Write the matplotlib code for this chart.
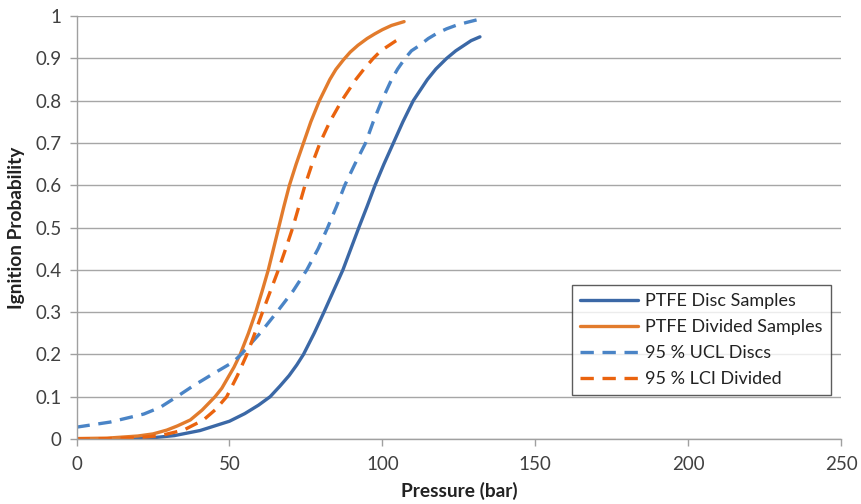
import matplotlib
matplotlib.use("Agg")
import matplotlib.pyplot as plt

plt.rcParams['font.family'] = ['Lato', 'DejaVu Sans']

# PTFE Disc Samples (solid blue)
disc_x = [0, 15, 25, 32, 40.4, 50, 55, 59.5, 63.3, 66.5, 69.5, 72, 74.2, 77.7, 80.9, 84, 87.1,
          89.7, 92.3, 95, 97.6, 100.5, 103.6, 106.7, 110.1, 114.7, 117.5, 121, 124, 126.5, 129, 131.9]
disc_y = [0, 0.001, 0.003, 0.008, 0.02, 0.042, 0.06, 0.08, 0.1, 0.125, 0.15, 0.175, 0.2, 0.25, 0.3,
          0.35, 0.4, 0.45, 0.5, 0.55, 0.6, 0.65, 0.7, 0.75, 0.8, 0.85, 0.875, 0.9, 0.918, 0.93,
          0.942, 0.951]

# PTFE Divided Samples (solid orange)
div_x = [0, 10, 20, 25, 29.5, 33, 37.2, 41, 45.3, 47.5, 49.5, 51.5, 53.5, 56.2, 58.6, 60.7,
         62.7, 64.4, 66.1, 67.8, 69.6, 71.8, 74.2, 76.6, 79.4, 82.8, 84.8, 87.3, 89.5, 92, 95,
         97.5, 100, 103, 107.1]
div_y = [0.001, 0.002, 0.007, 0.012, 0.021, 0.031, 0.045, 0.068, 0.1, 0.12, 0.145, 0.17, 0.2,
         0.25, 0.3, 0.35, 0.4, 0.45, 0.5, 0.55, 0.6, 0.65, 0.7, 0.75, 0.8, 0.85, 0.874, 0.897,
         0.915, 0.931, 0.947, 0.958, 0.968, 0.978, 0.987]

# 95 % UCL Discs (dashed blue)
ucl_x = [0, 11, 22, 27.4, 32.8, 38, 43.7, 51.2, 53.8, 60, 65.5, 70.8, 75.3, 79, 82.1, 85,
         87.7, 91, 94.5, 97, 99.8, 103, 105, 107.4, 109.5, 112, 115, 118, 121, 124, 127.5, 130.8]
ucl_y = [0.028, 0.04, 0.059, 0.075, 0.1, 0.125, 0.15, 0.182, 0.2, 0.25, 0.3, 0.35, 0.4, 0.45,
         0.5, 0.55, 0.6, 0.65, 0.7, 0.75, 0.8, 0.85, 0.875, 0.9, 0.918, 0.93, 0.947, 0.96,
         0.97, 0.978, 0.985, 0.991]

# 95 % LCI Divided (dashed orange)
lci_x = [0, 10, 20, 27.4, 35, 41.5, 45.5, 49.1, 52.6, 55.7, 58.3, 60.8, 63.4, 66, 68.4, 70.7,
         72.7, 74.7, 77, 79.6, 82.8, 86.7, 91.3, 94, 97, 99.5, 102, 104.5, 106.9]
lci_y = [0, 0.0008, 0.003, 0.008, 0.021, 0.045, 0.07, 0.1, 0.15, 0.2, 0.25, 0.3, 0.35, 0.4,
         0.45, 0.5, 0.55, 0.6, 0.65, 0.7, 0.75, 0.8, 0.85, 0.875, 0.9, 0.918, 0.93, 0.942, 0.952]

labels = ["PTFE Disc Samples", "PTFE Divided Samples", "95 % UCL Discs", "95 % LCI Divided"]
x_ticks = [0, 50, 100, 150, 200, 250]
y_ticks = [0, 0.1, 0.2, 0.3, 0.4, 0.5, 0.6, 0.7, 0.8, 0.9, 1]
y_ticklabels = ["0", "0.1", "0.2", "0.3", "0.4", "0.5", "0.6", "0.7", "0.8", "0.9", "1"]

fig = plt.figure(figsize=(8.62, 5.04), dpi=100)
ax = fig.add_axes([0.0888, 0.129, 0.887, 0.839])

lw = 2.4
common = dict(lw=lw, solid_capstyle='round', solid_joinstyle='round')
ax.plot(disc_x, disc_y, color='#3B68A6', label=labels[0], **common)
ax.plot(div_x, div_y, color='#E27B2C', label=labels[1], **common)
ax.plot(ucl_x, ucl_y, color='#4A84C6', dashes=(4, 2.6), label=labels[2], **common)
ax.plot(lci_x, lci_y, color='#EA630E', dashes=(4, 2.6), label=labels[3], **common)

ax.set_xlim(0, 250)
ax.set_ylim(0, 1)
ax.set_xticks(x_ticks)
ax.set_yticks(y_ticks)
ax.set_yticklabels(y_ticklabels)
ax.tick_params(axis='both', labelsize=13.5, length=5, width=1, direction='out',
               colors='#A0A0A0', labelcolor='#404040')
ax.tick_params(axis='x', pad=7)
ax.tick_params(axis='y', pad=6)
ax.grid(axis='y', color='#A6A6A6', lw=1)
ax.set_axisbelow(True)
for s in ['top', 'right']:
    ax.spines[s].set_visible(False)
for s in ['left', 'bottom']:
    ax.spines[s].set_color('#A0A0A0')
    ax.spines[s].set_linewidth(1)

ax.set_xlabel("Pressure (bar)", fontsize=13.8, fontweight='bold', color='#222222', labelpad=7)
ax.set_ylabel("Ignition Probability", fontsize=13.8, fontweight='bold', color='#222222', labelpad=7)

leg = ax.legend(loc='upper left', bbox_to_anchor=(0.648, 0.364), fontsize=13,
                frameon=True, fancybox=False, handlelength=3.2, handletextpad=0.4,
                borderpad=0.45, labelspacing=0.55, borderaxespad=0)
leg.get_frame().set_edgecolor('#333333')
leg.get_frame().set_linewidth(1)
for t in leg.get_texts():
    t.set_color('#222222')

fig.savefig("out.png", dpi=100)
